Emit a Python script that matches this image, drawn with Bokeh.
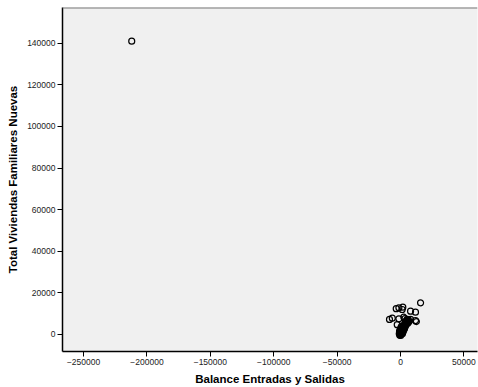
from bokeh.plotting import figure
from bokeh.models import FixedTicker, BasicTickFormatter, Span, Range1d
from bokeh.embed import file_html
from bokeh.resources import INLINE

# Data: (Balance Entradas y Salidas, Total Viviendas Familiares Nuevas)
balance = [
    -212000,
    15800, 7900, 11800, -3400, -1300, 1300, 1800, -8700, -6500, -1300,
    2600, 5300, 7900, 11800, -2600, 12500, 3500,
    0, 100, -200, 300, 500, 200, -100, 400, 700, 1000, 800, 1200, 1500, 600,
    900, 1800, 2000, 1400, 2300, 2600, 1700, 2900, 3200, 2500, 3500, 3000,
    3800, 4100, 3600, 4400, 4700, 4200, 5000, 5300, 4800, 5600, 6000, 5200,
    6300, 1000, -500, 200, 700, 1300, 2100, 2700, 3400, 4000, 4600, -800,
    -300, 300, 900, 5500, 6500, 1600, 2200, -1000, -600, 100,
]
viviendas = [
    141000,
    15200, 11200, 10700, 12400, 12800, 12000, 13100, 7200, 7800, 7500,
    8300, 7200, 7200, 6700, 4700, 6200, 7600,
    0, 50, 100, 200, 300, 150, 250, 500, 600, 800, 400, 1100, 1300, 900,
    1500, 1600, 2100, 1900, 2500, 2200, 2800, 3100, 2900, 3400, 3700, 4100,
    4000, 4500, 4800, 5000, 5400, 5800, 5600, 6000, 6300, 6500, 6200, 6900,
    7000, 300, 600, 1200, 2000, 3000, 3600, 4300, 5200, 6000, 6700, 1500,
    2400, 3300, 4000, 5200, 5900, 500, 1400, 300, -400, -500,
]

x_ticks = [-250000, -200000, -150000, -100000, -50000, 0, 50000]
y_ticks = [0, 20000, 40000, 60000, 80000, 100000, 120000, 140000]

p = figure(width=478, height=387, output_backend="svg", toolbar_location=None,
           x_range=Range1d(-266600, 60700), y_range=Range1d(-8200, 157200),
           min_border_left=62, min_border_right=1, min_border_top=7,
           min_border_bottom=36)

p.background_fill_color = "#f0f0f0"
p.border_fill_color = "white"
p.outline_line_color = None
p.grid.visible = False

p.scatter(balance, viviendas, marker="circle", size=6, fill_color=None,
          line_color="black", line_width=1.2)

top = Span(location=157200, dimension="width", line_color="#777777", line_width=2)
p.add_layout(top)

fmt = BasicTickFormatter(use_scientific=False)
for ax, ticks in ((p.xaxis[0], x_ticks), (p.yaxis[0], y_ticks)):
    ax.ticker = FixedTicker(ticks=ticks)
    ax.formatter = fmt
    ax.minor_tick_line_color = None
    ax.major_tick_in = 0
    ax.major_tick_out = 5
    ax.major_tick_line_color = "black"
    ax.axis_line_color = "black"
    ax.axis_line_width = 1.5
    ax.major_label_text_font = "Liberation Sans"
    ax.major_label_text_font_size = "8.5px"
    ax.major_label_text_color = "#222222"
    ax.major_label_standoff = 2
    ax.axis_label_text_font = "Liberation Sans"
    ax.axis_label_text_font_size = "11.5px"
    ax.axis_label_text_font_style = "bold"
    ax.axis_label_text_color = "black"
    ax.axis_label_standoff = 5

p.xaxis.axis_label = "Balance Entradas y Salidas"
p.yaxis.axis_label = "Total Viviendas Familiares Nuevas"

open("out.html", "w").write(file_html(p, INLINE))
